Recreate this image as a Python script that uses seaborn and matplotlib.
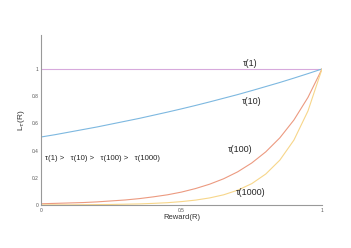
import numpy as np
import pandas as pd
import matplotlib
matplotlib.use("Agg")
import matplotlib.pyplot as plt
import seaborn as sns

# Reward values (x) and curve values
reward = [0.0, 0.05, 0.1, 0.15, 0.2, 0.25, 0.3, 0.35, 0.4, 0.45, 0.5,
          0.55, 0.6, 0.65, 0.7, 0.75, 0.8, 0.85, 0.9, 0.95, 1.0]
tau_1 = [1.0] * 21
tau_10 = [0.500, 0.517, 0.536, 0.555, 0.574, 0.595, 0.616, 0.637, 0.660, 0.683, 0.707,
          0.732, 0.758, 0.785, 0.812, 0.841, 0.871, 0.901, 0.933, 0.966, 1.0]
tau_100 = [0.009, 0.012, 0.015, 0.018, 0.023, 0.030, 0.037, 0.047, 0.060, 0.075, 0.095,
           0.121, 0.153, 0.193, 0.244, 0.309, 0.391, 0.494, 0.625, 0.791, 1.0]
tau_1000 = [0.001, 0.001, 0.001, 0.002, 0.003, 0.004, 0.006, 0.008, 0.012, 0.017, 0.025,
            0.036, 0.052, 0.075, 0.109, 0.157, 0.228, 0.330, 0.477, 0.691, 1.0]

series = {"τ(1)": tau_1, "τ(10)": tau_10, "τ(100)": tau_100, "τ(1000)": tau_1000}
colors = {"τ(1)": "#d7a9dc", "τ(10)": "#7db8e0", "τ(100)": "#ec9a80", "τ(1000)": "#f7d68a"}

df = pd.DataFrame([(r, v, name) for name, vals in series.items() for r, v in zip(reward, vals)],
                  columns=["R", "L", "tau"])

sns.set_style("white")
plt.rcParams['font.family'] = ['Liberation Sans', 'DejaVu Sans']

fig = plt.figure(figsize=(3.51, 2.48), dpi=100)
ax = fig.add_axes([41 / 351, 43 / 248, 281 / 351, 170 / 248])

sns.lineplot(data=df, x="R", y="L", hue="tau", palette=colors, linewidth=0.8,
             legend=False, ax=ax)

ax.set_xlim(0, 1)
ax.set_ylim(0, 1.25)
ax.set_xticks([0, 0.5, 1])
ax.set_xticklabels(["0", "0.5", "1"])
ax.set_yticks([0, 0.2, 0.4, 0.6, 0.8, 1])
ax.set_yticklabels(["0", "0.2", "0.4", "0.6", "0.8", "1"])
ax.tick_params(direction="in", length=2, width=0.5, labelsize=3.5, colors="#555555",
               pad=2)
for s in ["top", "right"]:
    ax.spines[s].set_visible(False)
for s in ["left", "bottom"]:
    ax.spines[s].set_color("#999999")
    ax.spines[s].set_linewidth(0.8)

ax.set_xlabel("Reward(R)", fontsize=5.5, labelpad=1, color="#333333")
ax.set_ylabel("L$_\\tau$(R)", fontsize=6, labelpad=3, color="#333333")

ax.text(0.745, 1.01, "τ(1)", fontsize=6.5, ha="center", va="bottom")
ax.text(0.75, 0.76, "τ(10)", fontsize=6.5, ha="center", va="center")
ax.text(0.71, 0.41, "τ(100)", fontsize=6.5, ha="center", va="center")
ax.text(0.745, 0.095, "τ(1000)", fontsize=6.5, ha="center", va="center")
ax.text(0.015, 0.34, "τ(1) >   τ(10) >   τ(100) >   τ(1000)", fontsize=5.6,
        ha="left", va="center")

fig.savefig("out.png", dpi=100)
